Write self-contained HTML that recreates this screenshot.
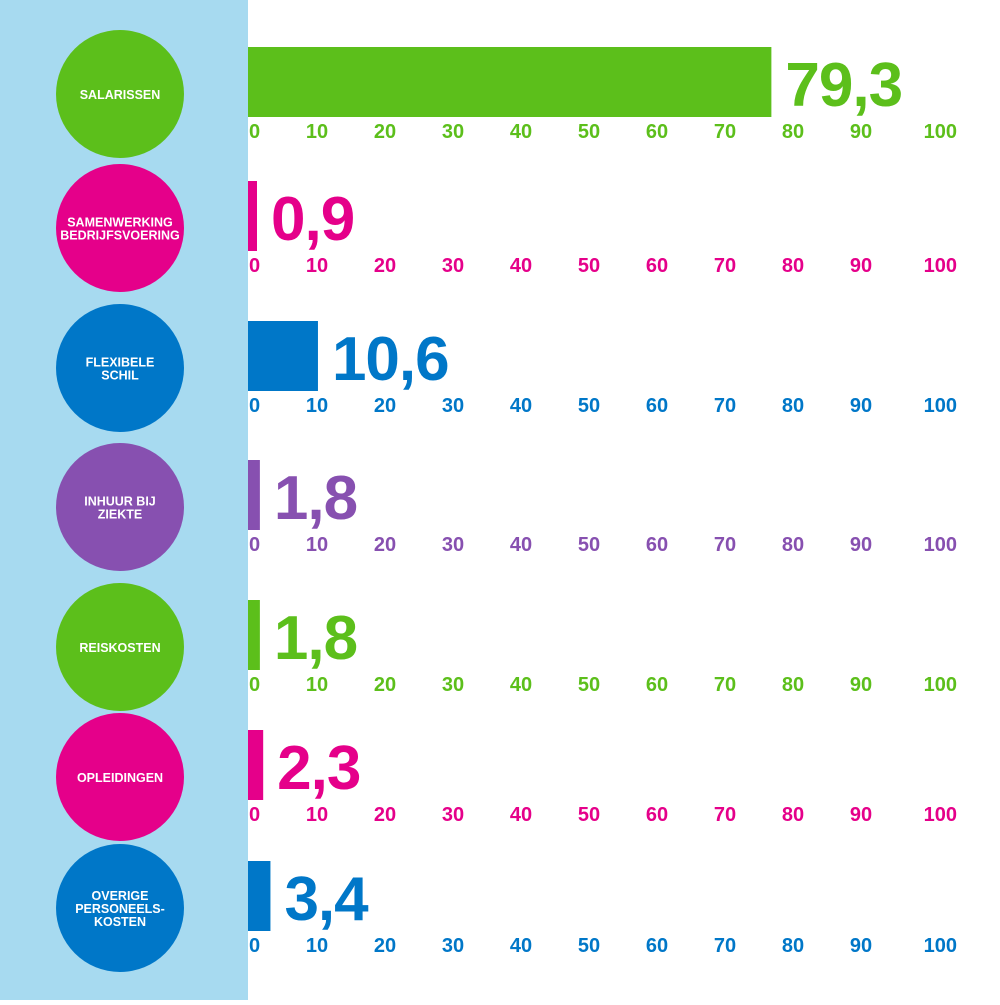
<!DOCTYPE html>
<html><head><meta charset="utf-8"><style>
html,body{margin:0;padding:0;background:#fff;}
svg text{font-family:"Liberation Sans",Arial,sans-serif;font-weight:bold;}
</style></head><body>
<svg id="chart" width="1000" height="1000" viewBox="0 0 1000 1000" xmlns="http://www.w3.org/2000/svg">
<rect x="0" y="0" width="248" height="1000" fill="#a7daf0"/>
</svg>
<script>
const categories=[["SALARISSEN"],["SAMENWERKING","BEDRIJFSVOERING"],["FLEXIBELE","SCHIL"],["INHUUR BIJ","ZIEKTE"],["REISKOSTEN"],["OPLEIDINGEN"],["OVERIGE","PERSONEELS-","KOSTEN"]];
const values=[79.3,0.9,10.6,1.8,1.8,2.3,3.4];
const valueLabels=["79,3","0,9","10,6","1,8","1,8","2,3","3,4"];
const tickLabels=[0,10,20,30,40,50,60,70,80,90,100];
const colors=["#5cbf1b","#e5008a","#0077c8","#8750b0","#5cbf1b","#e5008a","#0077c8"];
const rowTops=[47,181,321,460,600,730,861];
const NS="http://www.w3.org/2000/svg";
const svg=document.getElementById('chart');
const x0=248, pxPerUnit=6.6, tickStep=68;
function xScale(v){return x0+v*pxPerUnit;}
function tickX(v){return 249+tickStep*(v/10);}
function mk(tag,attrs,parent){const e=document.createElementNS(NS,tag);for(const k in attrs)e.setAttribute(k,attrs[k]);(parent||svg).appendChild(e);return e;}
values.forEach((v,i)=>{
  const top=rowTops[i], c=colors[i], cy=top+47;
  const g=mk('g',{});
  
  
  const circ=mk('circle',{cx:120,cy:cy,r:64,fill:c},g);
  
  
  const lines=categories[i];
  lines.forEach((ln,j)=>{
    const t=mk('text',{x:120,y:cy+5+(j-(lines.length-1)/2)*13,'text-anchor':'middle','font-size':12.5,fill:'#fff'},g);
    
    
    t.textContent=ln;
  });
  const w=Math.max(xScale(v)-x0,9);
  const bar=mk('rect',{x:x0,y:top,width:w,height:70,fill:c},g);
  
  
  const vt=mk('text',{x:x0+w+14,y:top+59,'font-size':62,fill:c,'letter-spacing':-1},g);
  
  
  vt.textContent=valueLabels[i];
  tickLabels.forEach((t,k)=>{
    let anchor='middle',x=tickX(t);
    if(k===0){anchor='start';x=249;}
    if(k===tickLabels.length-1){anchor='end';x=957;}
    const tt=mk('text',{x:x,y:top+91,'text-anchor':anchor,'font-size':20,fill:c},g);
    
    
    tt.textContent=t;
  });
});
</script>
</body></html>
